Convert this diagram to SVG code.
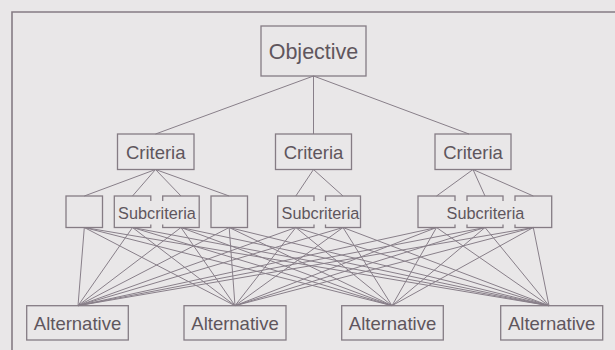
<svg xmlns="http://www.w3.org/2000/svg" width="615" height="350" viewBox="0 0 615 350">
<style>
.bg{fill:#e9e7e8}
.box{fill:none;stroke:#857c84;stroke-width:1.3}
.mask{fill:#e9e7e8;stroke:none}
.ln{fill:none;stroke:#887f89;stroke-width:1}
.frame{fill:none;stroke:#857c84;stroke-width:1.6}
text{font-family:"Liberation Sans",Arial,sans-serif;fill:#5f565d;text-anchor:middle;dominant-baseline:central}
.t21{font-size:21.5px}
.t18{font-size:18.5px}
.t16{font-size:16.3px}
</style>
<rect class="bg" x="0" y="0" width="615" height="350"/>
<path class="frame" d="M12 350V12H615"/>
<g id="connectors">
<path class="ln" d="M313.5 76L155.5 134M313.5 76L313.5 134M313.5 76L469 134"/>
<path class="ln" d="M155.5 169.5L84.3 196M155.5 169.5L132.5 196M155.5 169.5L181 196M155.5 169.5L229.2 196M313.5 169.5L295.8 196M313.5 169.5L343 196M473 169.5L436.5 196M473 169.5L485 196M473 169.5L533.3 196"/>
<path class="ln" d="M84.3 227.5L78 305.7M132.5 227.5L78 305.7M181 227.5L78 305.7M229.2 227.5L78 305.7M295.8 227.5L78 305.7M343 227.5L78 305.7M436.5 227.5L78 305.7M485 227.5L78 305.7M533.3 227.5L78 305.7"/>
<path class="ln" d="M84.3 227.5L235 305.7M132.5 227.5L235 305.7M181 227.5L235 305.7M229.2 227.5L235 305.7M295.8 227.5L235 305.7M343 227.5L235 305.7M436.5 227.5L235 305.7M485 227.5L235 305.7M533.3 227.5L235 305.7"/>
<path class="ln" d="M84.3 227.5L392 305.7M132.5 227.5L392 305.7M181 227.5L392 305.7M229.2 227.5L392 305.7M295.8 227.5L392 305.7M343 227.5L392 305.7M436.5 227.5L392 305.7M485 227.5L392 305.7M533.3 227.5L392 305.7"/>
<path class="ln" d="M84.3 227.5L549 305.7M132.5 227.5L549 305.7M181 227.5L549 305.7M229.2 227.5L549 305.7M295.8 227.5L549 305.7M343 227.5L549 305.7M436.5 227.5L549 305.7M485 227.5L549 305.7M533.3 227.5L549 305.7"/>
</g>
<g id="objective"><rect class="box" x="261" y="26" width="105" height="50"/><text class="t21" x="313.5" y="51.5">Objective</text></g>
<g id="criteria1"><rect class="box" x="117.5" y="134" width="76.5" height="35.5"/><text class="t18" x="155.7" y="152">Criteria</text></g>
<g id="criteria2"><rect class="box" x="275.5" y="134" width="76" height="35.5"/><text class="t18" x="313.5" y="152">Criteria</text></g>
<g id="criteria3"><rect class="box" x="435" y="134" width="76" height="35.5"/><text class="t18" x="473" y="152">Criteria</text></g>
<g id="sub1"><rect class="box" x="66" y="196" width="36.5" height="31.5"/></g>
<g id="sub2"><rect class="box" x="114.3" y="196" width="36.5" height="31.5"/></g>
<g id="sub3"><rect class="box" x="162.7" y="196" width="36.5" height="31.5"/></g>
<g id="sub4"><rect class="box" x="211" y="196" width="36.5" height="31.5"/></g>
<g id="sub5"><rect class="box" x="277.7" y="196" width="36.3" height="31.5"/></g>
<g id="sub6"><rect class="box" x="325.5" y="196" width="35" height="31.5"/></g>
<g id="sub7"><rect class="box" x="418" y="196" width="37" height="31.5"/></g>
<g id="sub8"><rect class="box" x="467" y="196" width="36" height="31.5"/></g>
<g id="sub9"><rect class="box" x="515" y="196" width="36.7" height="31.5"/></g>
<g id="subcriteria-label1"><rect class="mask" x="116.5" y="201" width="80.5" height="23.5"/><text class="t16" x="157" y="213">Subcriteria</text></g>
<g id="subcriteria-label2"><rect class="mask" x="281.5" y="201" width="77.5" height="23.5"/><text class="t16" x="320.5" y="213">Subcriteria</text></g>
<g id="subcriteria-label3"><rect class="mask" x="446" y="201" width="79" height="23.5"/><text class="t16" x="485.5" y="213">Subcriteria</text></g>
<g id="alt1"><rect class="box" x="26.7" y="305.7" width="101.6" height="34.3"/><text class="t18" x="77.5" y="323">Alternative</text></g>
<g id="alt2"><rect class="box" x="184" y="305.7" width="102" height="34.3"/><text class="t18" x="235" y="323">Alternative</text></g>
<g id="alt3"><rect class="box" x="341.7" y="305.7" width="101.6" height="34.3"/><text class="t18" x="392.5" y="323">Alternative</text></g>
<g id="alt4"><rect class="box" x="500.7" y="305.7" width="102" height="34.3"/><text class="t18" x="551.7" y="323">Alternative</text></g>
</svg>
